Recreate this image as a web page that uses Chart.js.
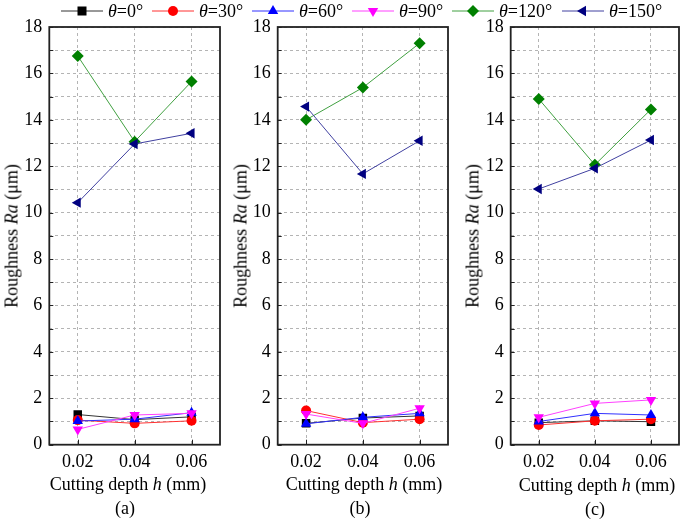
<!DOCTYPE html>
<html><head><meta charset="utf-8">
<script src="https://cdn.jsdelivr.net/npm/chart.js@4.4.0/dist/chart.umd.min.js"></script>
<style>
body{margin:0;width:685px;height:520px;background:#fff;position:relative;overflow:hidden;font-family:"Liberation Serif","Times New Roman",serif;color:#000;}
canvas{position:absolute;top:0;}
.yt{position:absolute;font-size:18px;white-space:nowrap;transform:translate(-50%,-50%) rotate(-90deg);}
.xt{position:absolute;font-size:18px;white-space:nowrap;transform:translate(-50%,-50%);}
.leg{position:absolute;top:0;height:22px;display:flex;align-items:center;font-size:18px;white-space:nowrap;}
.leg svg{margin-right:5px;}
</style></head>
<body>
<canvas id="ca" width="226" height="520" style="left:0px"></canvas>
<canvas id="cb" width="224" height="520" style="left:230px"></canvas>
<canvas id="cc" width="223" height="520" style="left:462px"></canvas>
<div id="legend"></div>
<div class="yt" style="left:12px;top:236px">Roughness <i>Ra</i> (μm)</div>
<div class="yt" style="left:241px;top:236px">Roughness <i>Ra</i> (μm)</div>
<div class="yt" style="left:473px;top:236px">Roughness <i>Ra</i> (μm)</div>
<div class="xt" style="left:128px;top:484px">Cutting depth <i>h</i> (mm)</div>
<div class="xt" style="left:364px;top:484px">Cutting depth <i>h</i> (mm)</div>
<div class="xt" style="left:597px;top:485px">Cutting depth <i>h</i> (mm)</div>
<div class="xt" style="left:125px;top:508px">(a)</div>
<div class="xt" style="left:360px;top:508px">(b)</div>
<div class="xt" style="left:595px;top:509px">(c)</div>
<script>
// ---- data ----
const depths = ['0.02', '0.04', '0.06'];
const angles = [0, 30, 60, 90, 120, 150];
const yTickValues = [0, 2, 4, 6, 8, 10, 12, 14, 16, 18];

const a0 = [1.30, 1.08, 1.20];
const a30 = [1.06, 0.92, 1.03];
const a60 = [1.02, 1.10, 1.38];
const a90 = [0.66, 1.28, 1.35];
const a120 = [16.75, 13.06, 15.65];
const a150 = [10.43, 12.96, 13.42];

const b0 = [0.92, 1.15, 1.24];
const b30 = [1.47, 0.95, 1.10];
const b60 = [0.90, 1.18, 1.35];
const b90 = [1.32, 0.92, 1.57];
const b120 = [14.00, 15.39, 17.30];
const b150 = [14.57, 11.67, 13.10];

const c0 = [0.95, 1.03, 0.99];
const c30 = [0.85, 1.03, 1.10];
const c60 = [1.00, 1.35, 1.28];
const c90 = [1.18, 1.78, 1.93];
const c120 = [14.90, 12.06, 14.45];
const c150 = [11.02, 11.91, 13.13];

// ---- styles ----
const colors = ['#000000', '#ff0000', '#0000ff', '#ff00ff', '#008000', '#000080'];
const lineColors = ['#333333', '#ff3030', '#3030ff', '#ff40ff', '#40a040', '#4040a0'];
const shapes = ['rect', 'circle', 'triangle', 'triangle', 'rectRot', 'triangle'];
const rots = [0, 0, 0, 180, 0, 270];
const radii = [6, 5, 6, 6, 6, 6];

const font = {family: '"Liberation Serif","Times New Roman",serif', size: 18};

const framePlugin = {
  id: 'frame',
  afterDraw(chart) {
    const {ctx, chartArea: ca, scales} = chart;
    ctx.save();
    ctx.strokeStyle = '#222';
    ctx.lineWidth = 1;
    ctx.beginPath();
    for (let v = 0; v <= 18; v++) {
      const py = Math.round(scales.y.getPixelForValue(v)) + 0.5;
      ctx.moveTo(ca.left, py); ctx.lineTo(ca.left + 4, py);
    }
    for (let i = 0; i < depths.length; i++) {
      const px = Math.round(scales.x.getPixelForValue(i)) + 0.5;
      ctx.moveTo(px, ca.bottom); ctx.lineTo(px, ca.bottom - 5);
    }
    ctx.stroke();
    ctx.lineWidth = 1.8;
    ctx.strokeRect(ca.left, ca.top, ca.right - ca.left, ca.bottom - ca.top);
    ctx.restore();
  }
};

function makeChart(id, series, yw, padRight) {
  const datasets = series.map((d, i) => ({
    label: 'θ=' + angles[i] + '°',
    data: d,
    borderColor: lineColors[i],
    backgroundColor: colors[i],
    borderWidth: 1,
    pointStyle: shapes[i],
    pointRotation: rots[i],
    pointRadius: radii[i],
    pointBorderWidth: 0,
    pointBackgroundColor: colors[i],
    order: series.length - i,
    tension: 0
  }));
  return new Chart(document.getElementById(id), {
    type: 'line',
    data: {labels: depths, datasets},
    plugins: [framePlugin],
    options: {
      responsive: false,
      animation: false,
      devicePixelRatio: 1,
      layout: {padding: {top: 27, right: padRight, bottom: 0, left: 0}},
      plugins: {legend: {display: false}, tooltip: {enabled: false}},
      scales: {
        x: {
          type: 'category',
          offset: true,
          grid: {color: '#b4b4b4', lineWidth: 1, drawTicks: false},
          border: {display: false, dash: [3, 3]},
          ticks: {color: '#000', font, padding: 7, maxRotation: 0},
          afterFit(s) { s.height = 75.3; }
        },
        y: {
          min: 0, max: 18,
          grid: {color: '#b4b4b4', lineWidth: 1, drawTicks: false},
          border: {display: false, dash: [3, 3]},
          ticks: {
            stepSize: 1, color: '#000', font, padding: 7, autoSkip: false,
            callback: (v) => yTickValues.includes(v) ? String(v) : ''
          },
          afterFit(s) { s.width = yw; }
        }
      }
    }
  });
}

makeChart('ca', [a0, a30, a60, a90, a120, a150], 49.3, 4.5);
makeChart('cb', [b0, b30, b60, b90, b120, b150], 47.7, 4);
makeChart('cc', [c0, c30, c60, c90, c120, c150], 48.7, 2.5);

// ---- legend ----
function symbolSvg(i) {
  const c = colors[i];
  let m = '';
  const cx = 21, cy = 7;
  if (shapes[i] === 'rect') m = `<rect x="${cx-4.5}" y="${cy-4.5}" width="9" height="9" fill="${c}"/>`;
  else if (shapes[i] === 'circle') m = `<circle cx="${cx}" cy="${cy}" r="5" fill="${c}"/>`;
  else if (shapes[i] === 'rectRot') m = `<polygon points="${cx},${cy-6} ${cx+6},${cy} ${cx},${cy+6} ${cx-6},${cy}" fill="${c}"/>`;
  else {
    const pts = [[0,-6],[5.2,3],[-5.2,3]].map(([x,y]) => {
      const a = rots[i] * Math.PI / 180;
      return (cx + x*Math.cos(a) - y*Math.sin(a)).toFixed(2) + ',' + (cy + x*Math.sin(a) + y*Math.cos(a)).toFixed(2);
    }).join(' ');
    m = `<polygon points="${pts}" fill="${c}"/>`;
  }
  return `<svg width="42" height="14" viewBox="0 0 42 14"><line x1="0" y1="7" x2="42" y2="7" stroke="${lineColors[i]}" stroke-width="1"/>${m}</svg>`;
}
const legendX = [61, 152, 252, 352, 452, 562];
const lg = document.getElementById('legend');
angles.forEach((a, i) => {
  const d = document.createElement('div');
  d.className = 'leg';
  d.style.left = legendX[i] + 'px';
  d.innerHTML = symbolSvg(i) + '<span><i>θ</i>=' + a + '°</span>';
  lg.appendChild(d);
});
</script>
</body></html>
